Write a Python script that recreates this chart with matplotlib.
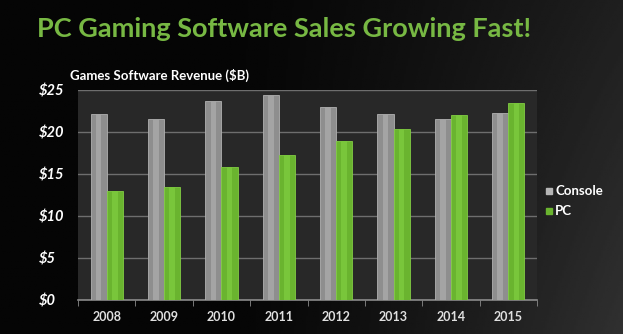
import numpy as np
import matplotlib.pyplot as plt

years = ["2008", "2009", "2010", "2011", "2012", "2013", "2014", "2015"]
console = [22.1, 21.5, 23.7, 24.4, 23.0, 22.1, 21.6, 22.3]
pc = [13.0, 13.4, 15.8, 17.3, 18.9, 20.4, 22.0, 23.5]
y_ticks = [0, 5, 10, 15, 20, 25]

W, H = 623, 334
fig = plt.figure(figsize=(W / 100, H / 100), dpi=100)

# fond : noir a gauche, gris fonce a droite
bg = fig.add_axes([0, 0, 1, 1])
xx = np.linspace(0, 1, 300)
yy = np.linspace(0, 1, 200)
X, Y = np.meshgrid(xx, yy)
grad = 0.02 + 0.17 * np.clip((X - 0.35) / 0.65, 0, 1) ** 1.3 * (0.6 + 0.4 * Y)
bg.imshow(grad, cmap="gray", vmin=0, vmax=1, aspect="auto", extent=[0, 1, 0, 1])
bg.set_axis_off()

green = "#6ab42f"
gray = "#8e8e8e"

fig.text(37 / W, 1 - 29 / H, "PC Gaming Software Sales Growing Fast!",
         color="#77b843", fontsize=19.5, family="Lato", fontweight="bold",
         va="center", ha="left")
fig.text(70 / W, 1 - 75 / H, "Games Software Revenue ($B)", color="white",
         fontsize=9.5, family="Lato", fontweight="bold", va="center", ha="left")

ax = fig.add_axes([78 / W, 1 - 300 / H, (537 - 78) / W, 210 / H])
ax.set_facecolor("#282828")

x = np.arange(len(years))
w = 0.28
ax.bar(x - w / 2, console, width=w, color=gray, edgecolor="#b0b0b0", linewidth=0.6, zorder=3)
ax.bar(x + w / 2, pc, width=w, color=green, edgecolor="#82cc44", linewidth=0.6, zorder=3)
# petit reflet au centre des barres
ax.bar(x - w / 2, console, width=w * 0.35, color="#a4a4a4", linewidth=0, zorder=4)
ax.bar(x + w / 2, pc, width=w * 0.35, color="#79c63b", linewidth=0, zorder=4)

ax.set_xlim(-0.5, len(years) - 0.5)
ax.set_ylim(0, 25)
ax.set_yticks(y_ticks)
ax.set_yticklabels(["$" + str(v) for v in y_ticks], color="white", fontsize=10.5,
                   family="Lato", fontweight="bold", style="italic")
ax.grid(axis="y", color="#6e6e6e", linewidth=1, zorder=1)
ax.tick_params(axis="y", length=0, pad=28)
for lab in ax.get_yticklabels():
    lab.set_horizontalalignment("left")

ax.set_xticks(x)
ax.set_xticklabels(years, color="#e0e0e0", fontsize=9, family="Lato", fontweight="bold")
ax.tick_params(axis="x", length=0, pad=8)
ax.set_xticks(np.arange(-0.5, len(years)), minor=True)
ax.tick_params(axis="x", which="minor", length=4, color="#8a8a8a", direction="out")

for s in ["left", "right", "top"]:
    ax.spines[s].set_visible(False)
ax.spines["bottom"].set_color("#8a8a8a")
ax.spines["bottom"].set_linewidth(1.2)

# legende
fig.patches.append(plt.Rectangle((546 / W, 1 - 194 / H), 6 / W, 6 / H, color="#b5b5b5",
                                 transform=fig.transFigure, figure=fig))
fig.patches.append(plt.Rectangle((546 / W, 1 - 214 / H), 6 / W, 6 / H, color=green,
                                 transform=fig.transFigure, figure=fig))
fig.text(555 / W, 1 - 191 / H, "Console", color="white", fontsize=9.5, family="Lato",
         fontweight="bold", va="center")
fig.text(555 / W, 1 - 211 / H, "PC", color="white", fontsize=9.5, family="Lato",
         fontweight="bold", va="center")

fig.savefig("out.png", dpi=100, facecolor="black")
